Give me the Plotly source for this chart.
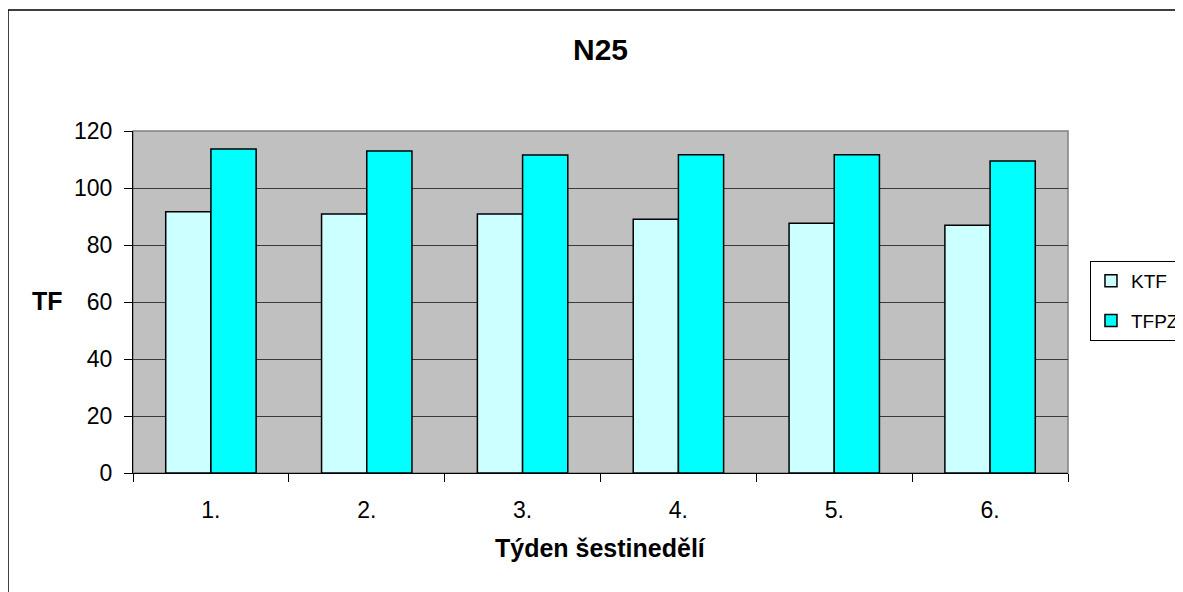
import plotly.graph_objects as go

weeks = ["1.", "2.", "3.", "4.", "5.", "6."]
ktf = [91.7, 90.9, 90.9, 89.0, 87.6, 86.9]
tfpz = [113.7, 113.0, 111.6, 111.7, 111.7, 109.5]

FONT = "Liberation Sans, Arial, sans-serif"

fig = go.Figure()
fig.add_trace(go.Bar(name="KTF", x=weeks, y=ktf, legendgroup="a",
                     marker=dict(color="#CCFFFF", line=dict(color="black", width=1.5))))
fig.add_trace(go.Bar(name="TFPZ", x=weeks, y=tfpz, legendgroup="b",
                     marker=dict(color="#00FFFF", line=dict(color="black", width=1.5))))

fig.update_layout(
    width=1183, height=592,
    margin=dict(l=125, r=123, t=123, b=127, autoexpand=False),
    paper_bgcolor="white", plot_bgcolor="#C0C0C0",
    barmode="group", bargap=0.42, bargroupgap=0,
    font=dict(family=FONT, size=23, color="black"),
    showlegend=True,
    legend=dict(x=1.0235, y=0.62, xanchor="left", yanchor="top",
                bordercolor="black", borderwidth=1, bgcolor="white",
                font=dict(size=19), traceorder="grouped", tracegroupgap=12, itemwidth=30),
    xaxis=dict(showgrid=False, ticks="outside", ticklen=8, tickcolor="black",
               tickson="boundaries", showline=True, linecolor="black", linewidth=1,
               tickfont=dict(size=23), ticklabelstandoff=16),
    yaxis=dict(range=[0, 120], dtick=20, showgrid=True, gridcolor="#3a3a3a", gridwidth=1,
               ticks="outside", ticklen=8, tickcolor="black", showline=True,
               linecolor="black", linewidth=1, tickfont=dict(size=23), zeroline=False,
               ticklabelstandoff=7),
    shapes=[
        dict(type="rect", xref="paper", yref="paper", x0=0, x1=1, y0=0, y1=1,
             line=dict(color="#808080", width=1.5), layer="below"),
        dict(type="rect", xref="paper", yref="paper", x0=-0.1337, x1=1.3, y0=-0.5, y1=1.3538,
             line=dict(color="black", width=1.5)),
    ],
    annotations=[
        dict(text="<b>N25</b>", xref="paper", yref="paper", x=0.5, y=1.237,
             showarrow=False, font=dict(size=30), xanchor="center", yanchor="middle"),
        dict(text="<b>Týden šestinedělí</b>", xref="paper", yref="paper", x=0.5, y=-0.219,
             showarrow=False, font=dict(size=25), xanchor="center", yanchor="middle"),
        dict(text="<b>TF</b>", xref="paper", yref="paper", x=-0.091, y=0.503,
             showarrow=False, font=dict(size=25), xanchor="center", yanchor="middle"),
    ],
)

fig.write_html("out.html")
